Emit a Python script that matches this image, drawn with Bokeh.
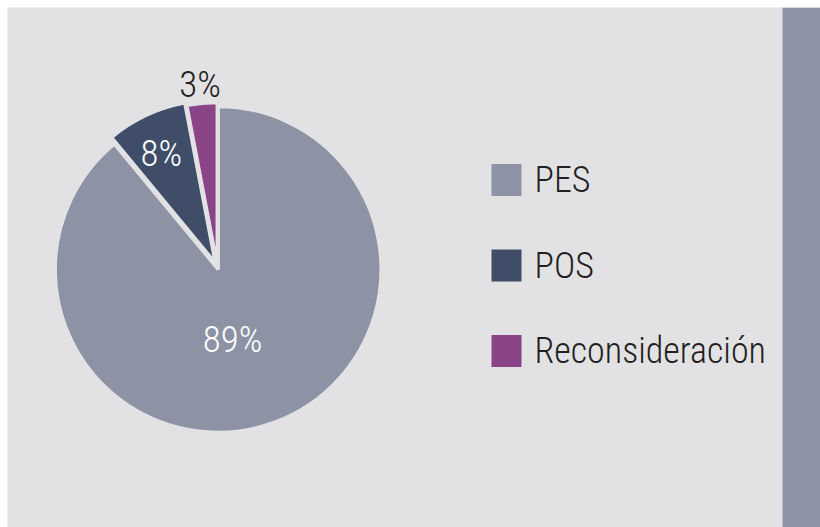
import math
from bokeh.plotting import figure
from bokeh.models import Range1d, ColumnDataSource
from bokeh.core.properties import value
from bokeh.embed import file_html
from bokeh.resources import INLINE

# ---- data ----
categories = ["PES", "POS", "Reconsideración"]
shares = [89, 8, 3]
labels = ["89%", "8%", "3%"]
colors = ["#8d93a5", "#3f4d69", "#8a4487"]
label_colors = ["#ffffff", "#ffffff", "#231f20"]

# ---- style / layout ----
W, H = 820, 527
M = 7                      # white margin top/left
PW, PH = W - M, H - M      # panel size in data units (1 unit = 1 px)
BG = "#e2e2e5"
FONT = "Roboto Condensed Light"
cx, cy, R = 210, 260, 163
explode = [2, 5, 2]             # px outward along mid-angle
label_rad = [0.45, 0.78, 1.13]  # fraction of radius
label_nudge = [-8, 1, 0]        # degrees

p = figure(width=W, height=H, output_backend="svg", toolbar_location=None,
           x_range=Range1d(0, PW), y_range=Range1d(0, PH),
           min_border=0, min_border_left=M, min_border_top=M)
p.axis.visible = False
p.grid.visible = False
p.outline_line_color = None
p.background_fill_color = BG
p.border_fill_color = "#ffffff"

# right strip
p.quad(left=[PW - 38], right=[PW], bottom=[0], top=[PH], fill_color="#8d93a5", line_color=None)

total = sum(shares)
xs, ys, starts, ends, lx, ly = [], [], [], [], [], []
cum = 0.0
for i, v in enumerate(shares):
    a0 = math.pi / 2 - 2 * math.pi * cum / total
    cum += v
    a1 = math.pi / 2 - 2 * math.pi * cum / total
    mid = (a0 + a1) / 2
    xs.append(cx + explode[i] * math.cos(mid))
    ys.append(cy + explode[i] * math.sin(mid))
    starts.append(a0)
    ends.append(a1)
    la = mid + math.radians(label_nudge[i])
    lx.append(cx + R * label_rad[i] * math.cos(la))
    ly.append(cy + R * label_rad[i] * math.sin(la))

src = ColumnDataSource(dict(x=xs, y=ys, start=starts, end=ends, color=colors,
                            lx=lx, ly=ly, label=labels, lcolor=label_colors))
p.wedge(x="x", y="y", radius=R, start_angle="start", end_angle="end",
        direction="clock", fill_color="color", line_color=BG, line_width=3.5, source=src)
p.text(x="lx", y="ly", text="label", text_color="lcolor", text_font=value(FONT),
       text_font_size="37px", text_align="center", text_baseline="middle", source=src)

# legend
sq_x, sq_y0, step, sq = 499, 347.5, 85.5, 30
leg = ColumnDataSource(dict(
    x=[sq_x] * len(categories),
    y=[sq_y0 - i * step for i in range(len(categories))],
    tx=[sq_x + 28] * len(categories),
    ty=[sq_y0 - i * step for i in range(len(categories))],
    color=colors, name=categories))
p.rect(x="x", y="y", width=sq, height=32, fill_color="color", line_color=None, source=leg)
p.text(x="tx", y="ty", text="name", text_color="#231f20", text_font=value(FONT),
       text_font_size="36px", text_align="left", text_baseline="middle", source=leg)

open("out.html", "w").write(file_html(p, INLINE))
